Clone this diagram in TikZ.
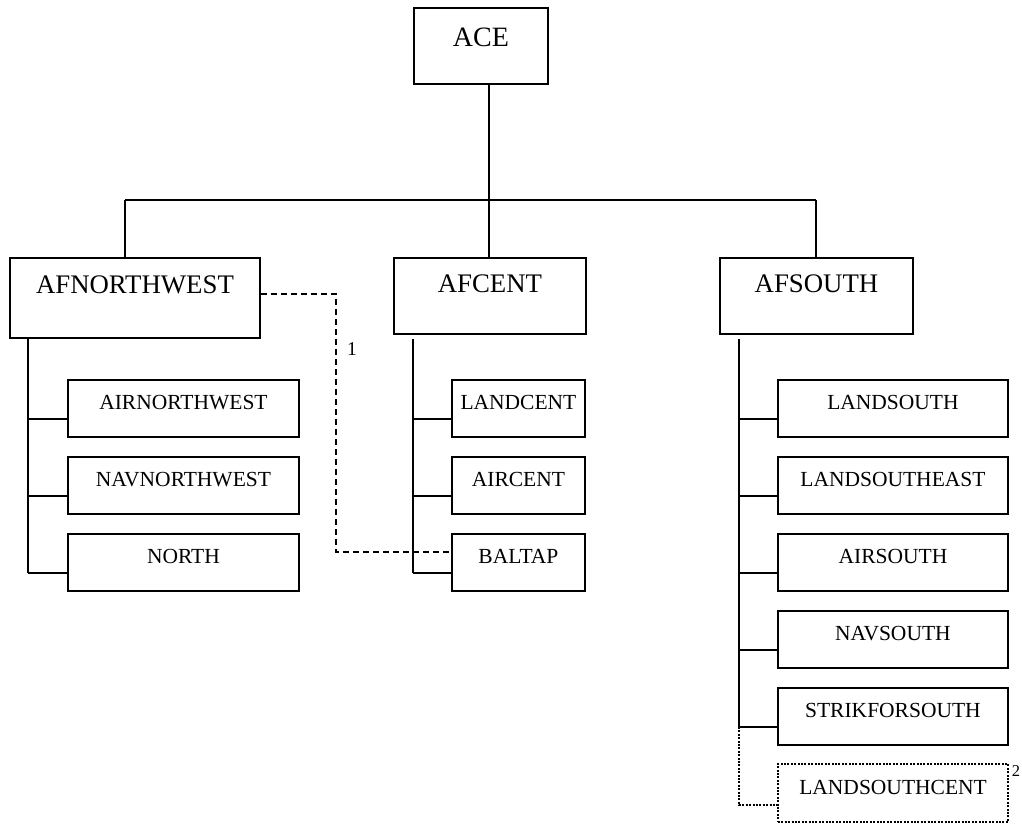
\documentclass[tikz,border=0pt]{standalone}
\usepackage{fontspec}
\setmainfont{Liberation Serif}
\usetikzlibrary{calc}
\begin{document}
\begin{tikzpicture}[x=1pt,y=-1pt,
  every path/.style={line width=1.9pt},
  boxbase/.style={draw,line width=1.9pt,inner sep=0pt,anchor=north west},
  topbox/.style={boxbase,font=\fontsize{28}{30}\selectfont,text height=39pt,text depth=37pt,minimum width=134pt},
  fbox/.style={boxbase,font=\fontsize{26.8}{28}\selectfont,text height=35pt,text depth=41pt},
  cbox/.style={boxbase,font=\fontsize{21.5}{24}\selectfont,text height=30pt,text depth=27pt},
  dashline/.style={line width=1.8pt,dash pattern=on 6pt off 4pt},
  dotline/.style={line width=2.1pt,dash pattern=on 2pt off 1.4pt},
  lbl/.style={font=\fontsize{19.5}{21}\selectfont,inner sep=0pt}
]
\useasboundingbox (0,0) rectangle (1022,826);
% top
\node[topbox] (ace) at (413,7) {ACE};
% first level
\node[fbox,minimum width=250pt,text height=36pt,text depth=44pt] (afnw) at (9,257) {AFNORTHWEST};
\node[fbox,minimum width=192pt] (afc) at (393,257) {AFCENT};
\node[fbox,minimum width=193pt] (afs) at (719,257) {AFSOUTH};
% left children
\node[cbox,minimum width=231pt] (anw) at (67,379) {AIRNORTHWEST};
\node[cbox,minimum width=231pt] (nnw) at (67,456) {NAVNORTHWEST};
\node[cbox,minimum width=231pt] (nor) at (67,533) {NORTH};
% middle children
\node[cbox,minimum width=133pt] (lc) at (451,379) {LANDCENT};
\node[cbox,minimum width=133pt] (ac) at (451,456) {AIRCENT};
\node[cbox,minimum width=133pt] (bal) at (451,533) {BALTAP};
% right children
\node[cbox,minimum width=230pt] (ls) at (777,379) {LANDSOUTH};
\node[cbox,minimum width=230pt] (lse) at (777,456) {LANDSOUTHEAST};
\node[cbox,minimum width=230pt] (as) at (777,533) {AIRSOUTH};
\node[cbox,minimum width=230pt] (ns) at (777,610) {NAVSOUTH};
\node[cbox,minimum width=230pt] (sfs) at (777,687) {STRIKFORSOUTH};
\node[cbox,dotline,minimum width=230pt,text depth=28pt] (lsc) at (777,763) {LANDSOUTHCENT};
% labels
\node[lbl] (one) at (352,349) {1};
\node[lbl,font=\fontsize{16.5}{18}\selectfont] (two) at (1016,771) {2};
% bus
\coordinate (b1) at (125,200);
\coordinate (b2) at (489,200);
\coordinate (b3) at (816,200);
\draw (b1) -- (b3);
\draw (b2 |- ace.south) -- (b2);
\draw (b1) -- (b1 |- afnw.north);
\draw (b2) -- (b2 |- afc.north);
\draw (b3) -- (b3 |- afs.north);
% left column
\coordinate (v1) at (28,339);
\draw (v1) -- ($(v1 |- nor.south west)+(0,-19)$);
\foreach \n in {anw,nnw,nor}{
  \draw ($(v1 |- \n.south west)+(0,-19)$) -- ($(\n.south west)+(0,-19)$);
}
% middle column
\coordinate (v2) at (413,339);
\draw (v2) -- ($(v2 |- bal.south west)+(0,-19)$);
\foreach \n in {lc,ac,bal}{
  \draw ($(v2 |- \n.south west)+(0,-19)$) -- ($(\n.south west)+(0,-19)$);
}
% right column
\coordinate (v3) at (739,339);
\draw (v3) -- ($(v3 |- sfs.south west)+(0,-19)$);
\foreach \n in {ls,lse,as,ns,sfs}{
  \draw ($(v3 |- \n.south west)+(0,-19)$) -- ($(\n.south west)+(0,-19)$);
}
\draw[dotline] ($(v3 |- sfs.south west)+(0,-19)$) -- ($(v3 |- lsc.south west)+(0,-18)$) -- ($(lsc.south west)+(0,-18)$);
% dashed link
\coordinate (dk) at (336,552);
\draw[dashline] ($(afnw.north east)+(0,37)$) -| (dk) -- ($(bal.north west)+(0,19)$);
\end{tikzpicture}
\end{document}
